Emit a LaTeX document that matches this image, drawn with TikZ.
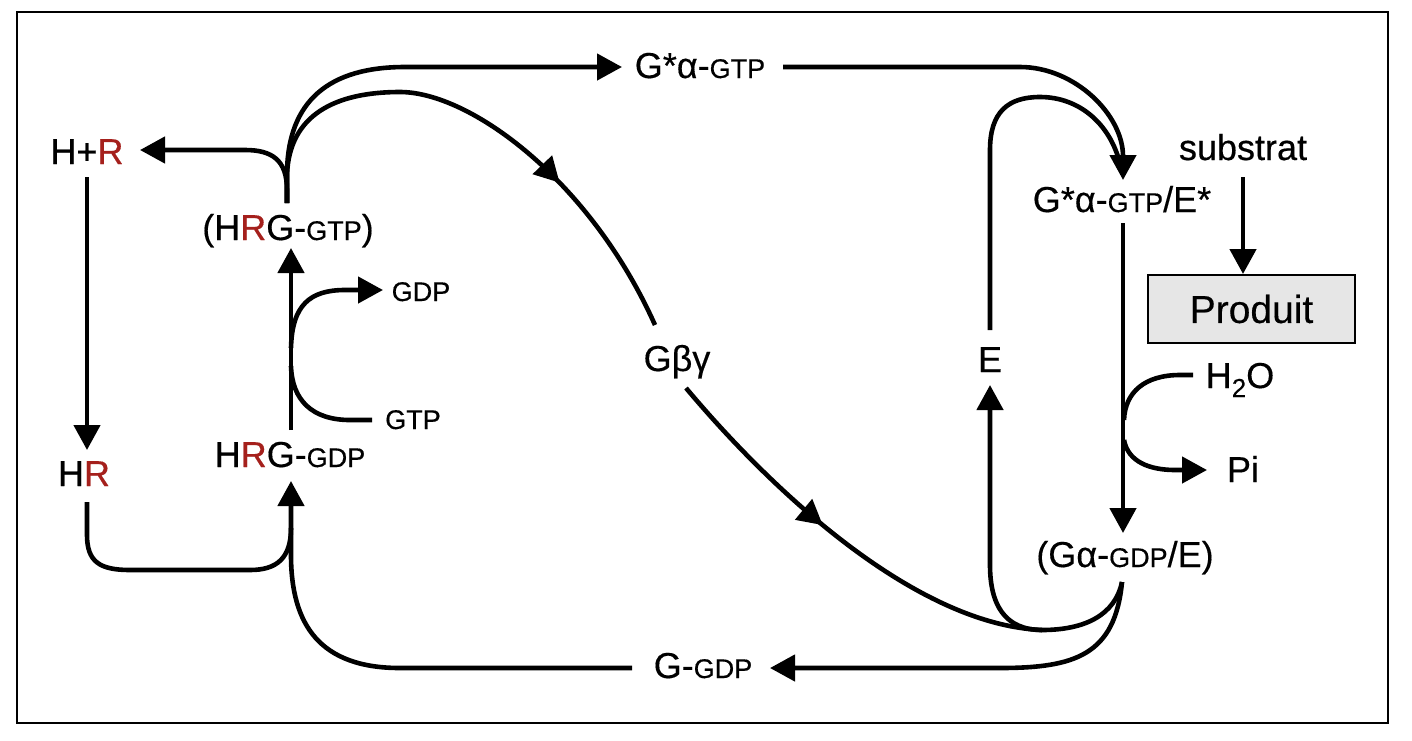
\documentclass[tikz,border=0pt]{standalone}
\usepackage{fontspec}
\setmainfont{Liberation Sans}[FakeBold=0.4]
\usetikzlibrary{arrows.meta,calc,decorations.markings}
\definecolor{rcol}{HTML}{A5201C}
\definecolor{boxfill}{HTML}{E6E6E6}
\newcommand\smc[1]{{\fontsize{13.5pt}{15pt}\selectfont #1}}
\newcommand\redR{\textcolor{rcol}{R}}
\begin{document}
\begin{tikzpicture}[x=0.5pt,y=-0.5pt,
  lbl/.style={inner sep=0pt, anchor=base, font=\fontsize{18pt}{20pt}\selectfont},
  slbl/.style={inner sep=0pt, anchor=base, font=\fontsize{13.5pt}{15pt}\selectfont},
  conn/.style={line width=2.3pt},
  arr/.style={conn, -{Triangle[length=12.5pt,width=13pt]}},
  midarr/.style={conn, postaction={decorate}, decoration={markings, mark=at position #1 with {\arrow{Triangle[length=12.5pt,width=13pt]}}}},
]
\fill[white] (0,0) rectangle (1412,740);
\useasboundingbox (0,0) rectangle (1412,740);
\draw[line width=1.4pt] (17,12) rectangle (1388,723);

% nodes
\node[lbl] (HpR) at (87,164) {H+\redR};
\node[lbl] (HRGGTP) at (288,240) {(H\redR G-\smc{GTP})};
\node[slbl] (GDP) at (421,301) {GDP};
\node[slbl] (GTP) at (413,429) {GTP};
\node[lbl] (HRGGDP) at (290,467) {H\redR G-\smc{GDP}};
\node[lbl] (HR) at (84,486) {H\redR};
\node[lbl] (Gbg) at (677,371) {Gβγ};
\node[lbl] (E) at (990,372) {E};
\node[lbl] (GaGTP) at (700,78) {G*α-\smc{GTP}};
\node[lbl] (GaGTPE) at (1122,212) {G*α-\smc{GTP}/E*};
\node[lbl] (substrat) at (1243,160) {substrat};
\node[draw, line width=1pt, fill=boxfill, minimum width=103.5pt, minimum height=34pt, inner sep=0pt, font=\fontsize{19.5pt}{21pt}\selectfont] (Produit) at (1251.5,309) {Produit};
\node[lbl] (H2O) at (1240,388) {H\raisebox{-4.5pt}{\fontsize{13pt}{14pt}\selectfont 2}O};
\node[lbl] (Pi) at (1243,482) {Pi};
\node[lbl] (GaGDPE) at (1125,567) {(Gα-\smc{GDP}/E)};
\node[lbl] (GGDP) at (703,678) {G-\smc{GDP}};

% junction coordinates
\coordinate (mrg) at (1042,630);
\coordinate (jHR) at (291,528);
\coordinate (jGTP) at (291,366);
\coordinate (jGDP) at (291,348);
\coordinate (jE) at (1121,168);
\coordinate (jH2O) at (1124,420);
\coordinate (jPi) at (1124,440);

% connectors
\draw[arr] ($(HRGGTP.base)+(-1,-37)$) -- (287,190) .. controls (287,160) and (272,150) .. (245,150) -- ($(HpR.base)+(53,-14)$);
\draw[arr] ($(HRGGTP.base)+(-1,-37)$) -- (287,175) .. controls (287,100) and (330,67) .. (405,67) -- ($(GaGTP.base)+(-78,-11)$);
\draw[midarr=0.685] ($(HRGGTP.base)+(-1,-37)$) -- (287,175) .. controls (289,115) and (335,92) .. (400,92) .. controls (470,92) and (590,180) .. ($(Gbg.base)+(-22,-46)$);
\draw[midarr=0.44] ($(Gbg.base)+(9,17)$) .. controls (780,500) and (920,625) .. (mrg);
\draw[arr] ($(GaGDPE.base)+(-3,15)$) .. controls (1115,615) and (1085,630) .. (mrg) .. controls (1005,630) and (990,605) .. (990,565) -- ($(E.base)+(0,13)$);
\draw[arr] ($(GaGDPE.base)+(-3,15)$) .. controls (1115,655) and (1075,668) .. (1000,668) -- ($(GGDP.base)+(67,-10)$);
\draw[arr] ($(GGDP.base)+(-71,-10)$) -- (400,668) .. controls (320,668) and (291,625) .. (291,555) -- ($(HRGGDP.base)+(1,14)$);
\draw[conn] ($(HR.base)+(3,16)$) -- (87,535) .. controls (87,562) and (100,570) .. (130,570) -- (250,570) .. controls (277,570) and (291,558) .. (jHR);
\draw[arr] ($(HpR.base)+(0,13)$) -- ($(HR.base)+(3,-36)$);
\draw[arr] ($(HRGGDP.base)+(1,-37)$) -- ($(HRGGTP.base)+(3,8)$);
\draw[conn] ($(GTP.base)+(-41,-9)$) -- (350,420) .. controls (312,420) and (292,400) .. (jGTP);
\draw[arr] (jGDP) .. controls (292,305) and (310,290) .. (345,290) -- ($(GDP.base)+(-38,-11)$);
\draw[arr] ($(GaGTP.base)+(83,-11)$) -- (1020,67) .. controls (1075,67) and (1123,115) .. ($(GaGTPE.base)+(1,-32)$);
\draw[conn] ($(E.base)+(0,-42)$) -- (990,150) .. controls (990,112) and (1008,97) .. (1040,97) .. controls (1080,97) and (1112,125) .. (jE);
\draw[arr] ($(GaGTPE.base)+(1,11)$) -- ($(GaGDPE.base)+(-2,-34)$);
\draw[conn] ($(H2O.base)+(-47,-13)$) -- (1180,375) .. controls (1145,375) and (1125,392) .. (jH2O);
\draw[arr] (jPi) .. controls (1128,462) and (1150,470) .. (1175,470) -- ($(Pi.base)+(-36,-12)$);
\draw[arr] ($(substrat.base)+(0,17)$) -- (substrat.base |- Produit.north);
\end{tikzpicture}
\end{document}
